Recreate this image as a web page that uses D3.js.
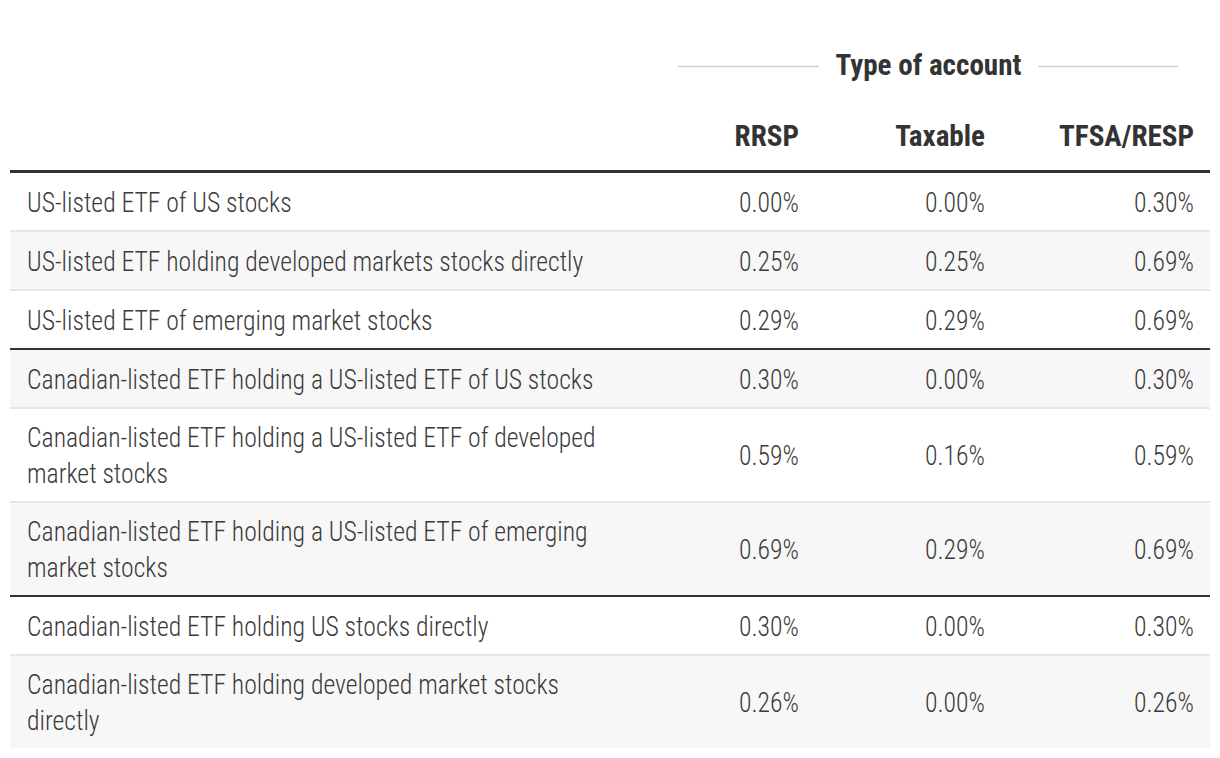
<!DOCTYPE html>
<html><head><meta charset="utf-8">
<script src="https://cdn.jsdelivr.net/npm/d3@7"></script>
<style>
body{margin:0;background:#fff;}
svg text{font-family:Roboto,"Roboto Condensed","Liberation Sans Narrow",sans-serif;font-stretch:75%;}
</style></head>
<body><svg id="chart" width="1220" height="758"></svg>
<script>
// ---- data ----
const spanner = "Type of account";
const columns = ["RRSP", "Taxable", "TFSA/RESP"];
const categories = [
  "US-listed ETF of US stocks",
  "US-listed ETF holding developed markets stocks directly",
  "US-listed ETF of emerging market stocks",
  "Canadian-listed ETF holding a US-listed ETF of US stocks",
  "Canadian-listed ETF holding a US-listed ETF of developed market stocks",
  "Canadian-listed ETF holding a US-listed ETF of emerging market stocks",
  "Canadian-listed ETF holding US stocks directly",
  "Canadian-listed ETF holding developed market stocks directly"
];
const rrsp    = [0.00, 0.25, 0.29, 0.30, 0.59, 0.69, 0.30, 0.26];
const taxable = [0.00, 0.25, 0.29, 0.00, 0.16, 0.29, 0.00, 0.00];
const tfsa    = [0.30, 0.69, 0.69, 0.30, 0.59, 0.69, 0.30, 0.26];
const groups  = [0, 0, 0, 1, 1, 1, 2, 2];

// ---- layout ----
const tableLeft = 10, tableRight = 1210;
const labelX = 27, labelMaxW = 600;
const sx = 0.918;          // horizontal squeeze for body text
const sxBold = 0.97;       // horizontal squeeze for header text
const bodySize = 28, headSize = 30;
const lineH = 36.5;
const headerLineTop = 170, headerLineH = 3;
const sepH = 2;
const fmt = d3.format(".2f");

const values = {"RRSP": rrsp, "Taxable": taxable, "TFSA/RESP": tfsa};
const colX = d3.scaleOrdinal().domain(columns).range([799, 985, 1194]);

const svg = d3.select("#chart");

function sText(parent, x, y, str, opts) {
  const g = parent.append("g").attr("transform", `translate(${x},${y}) scale(${opts.sx},1)`);
  return g.append("text")
    .attr("text-anchor", opts.anchor || "start")
    .style("font-size", opts.size + "px")
    .style("font-weight", opts.weight)
    .attr("fill", opts.fill)
    .text(str);
}

// measure helper for wrapping
const meas = svg.append("text").style("font-size", bodySize + "px").style("font-weight", 300).attr("opacity", 0);
function width(str) { meas.text(str); return meas.node().getComputedTextLength() * sx; }
function wrap(str) {
  const words = str.split(" ");
  const lines = [];
  let cur = "";
  words.forEach(w => {
    const test = cur ? cur + " " + w : w;
    if (cur && width(test) > labelMaxW) { lines.push(cur); cur = w; }
    else cur = test;
  });
  lines.push(cur);
  return lines;
}
const wrapped = categories.map(wrap);
meas.remove();

// row geometry
const rowH = n => 22 + n * 35;   // content height
let y = headerLineTop + headerLineH;
const rows = wrapped.map((lines, i) => {
  const h = rowH(lines.length);
  const r = {i, lines, y0: y, h};
  y += h + sepH;
  return r;
});

// row backgrounds
svg.selectAll("rect.row").data(rows).join("rect")
  .attr("class", "row")
  .attr("x", tableLeft).attr("width", tableRight - tableLeft)
  .attr("y", d => d.y0).attr("height", d => d.h + (d.i === rows.length - 1 ? 0 : sepH))
  .attr("fill", d => d.i % 2 ? "#f7f7f7" : "#ffffff");

// separators
svg.selectAll("rect.sep").data(rows.slice(0, -1)).join("rect")
  .attr("class", "sep")
  .attr("x", tableLeft).attr("width", tableRight - tableLeft)
  .attr("y", d => d.y0 + d.h).attr("height", sepH)
  .attr("fill", d => groups[d.i] !== groups[d.i + 1] ? "#333333" : "#e6e6e6");

// header thick line
svg.append("rect").attr("x", tableLeft).attr("width", tableRight - tableLeft)
  .attr("y", headerLineTop).attr("height", headerLineH).attr("fill", "#333333");

// spanner
const spanCenter = 928.5, spanY = 75, spanLineY = 66.5;
const spanT = sText(svg, spanCenter, spanY, spanner, {size: headSize, weight: 700, fill: "#333", anchor: "middle", sx: sxBold});
const spanW = spanT.node().getComputedTextLength() * sxBold;
svg.append("line").attr("x1", 678).attr("x2", spanCenter - spanW / 2 - 17)
  .attr("y1", spanLineY).attr("y2", spanLineY).attr("stroke", "#cccccc").attr("stroke-width", 1.5);
svg.append("line").attr("x1", spanCenter + spanW / 2 + 17).attr("x2", 1178)
  .attr("y1", spanLineY).attr("y2", spanLineY).attr("stroke", "#cccccc").attr("stroke-width", 1.5);

// column headers
columns.forEach(c => sText(svg, colX(c), 146, c, {size: headSize, weight: 700, fill: "#333", anchor: "end", sx: sxBold}));

// cells
rows.forEach(r => {
  const cy = r.y0 + r.h / 2;
  const n = r.lines.length;
  r.lines.forEach((ln, k) => {
    sText(svg, labelX, cy + 10 + (k - (n - 1) / 2) * lineH, ln, {size: bodySize, weight: 300, fill: "#3a3a3a", sx});
  });
  columns.forEach(c => {
    sText(svg, colX(c), cy + 10, fmt(values[c][r.i]) + "%", {size: bodySize, weight: 300, fill: "#3a3a3a", anchor: "end", sx});
  });
});
</script></body></html>
